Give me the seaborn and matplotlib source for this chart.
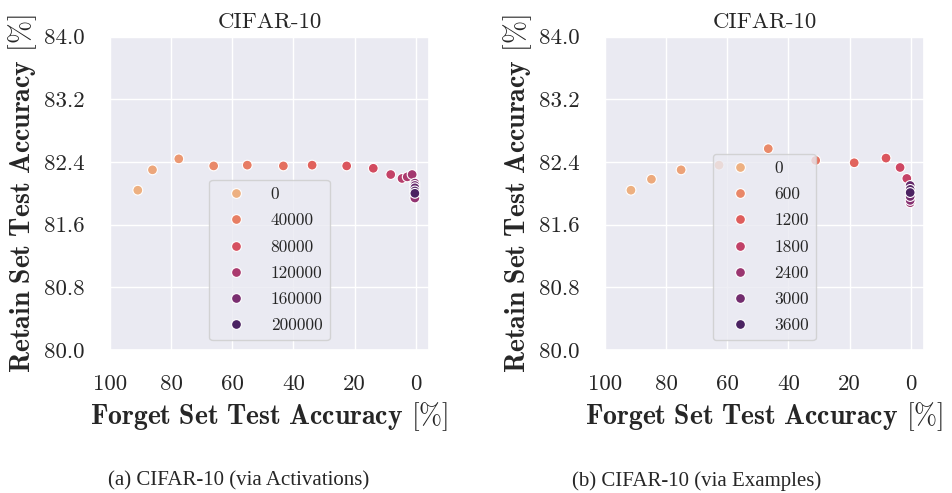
import matplotlib
matplotlib.use("Agg")
import matplotlib.pyplot as plt
import pandas as pd
import seaborn as sns

# (a) unlearning via activations
act_forget = [90.9, 86.1, 77.5, 66.1, 55.1, 43.3, 33.9, 22.6, 13.9, 8.2, 4.5, 2.8,
              1.2, 0.3, 0.3, 0.3, 0.3, 0.3, 0.3]
act_retain = [82.04, 82.30, 82.44, 82.35, 82.36, 82.35, 82.36, 82.35, 82.32, 82.24,
              82.19, 82.21, 82.24, 81.94, 82.13, 82.10, 82.07, 82.03, 82.00]
act_steps = [0, 8000, 20000, 32000, 42000, 52000, 62000, 72000, 84000, 98000,
             110000, 118000, 126000, 140000, 150000, 165000, 180000, 190000, 200000]

# (b) unlearning via examples
ex_forget = [91.5, 84.8, 75.1, 62.7, 46.6, 31.1, 18.5, 8.1, 3.5, 1.3,
             0.2, 0.2, 0.2, 0.2, 0.2, 0.2]
ex_retain = [82.04, 82.18, 82.30, 82.36, 82.57, 82.42, 82.39, 82.45, 82.33, 82.19,
             81.88, 81.91, 81.96, 82.10, 82.05, 82.01]
ex_count = [0, 100, 200, 300, 550, 900, 1100, 1300, 1600, 1750,
            2400, 2700, 3000, 3200, 3400, 3600]

sns.set_theme(style="darkgrid")
plt.rcParams["font.family"] = ["cmr10", "DejaVu Serif"]
plt.rcParams["mathtext.fontset"] = "cm"
plt.rcParams["axes.unicode_minus"] = False

fig = plt.figure(figsize=(9.53, 4.93), dpi=100)
ax1 = fig.add_axes([0.1154, 0.2901, 0.3347, 0.6355])
ax2 = fig.add_axes([0.6348, 0.2901, 0.3347, 0.6355])

df_a = pd.DataFrame({"forget": act_forget, "retain": act_retain, "hue": act_steps})
df_b = pd.DataFrame({"forget": ex_forget, "retain": ex_retain, "hue": ex_count})

for ax, df in [(ax1, df_a), (ax2, df_b)]:
    sns.scatterplot(data=df, x="forget", y="retain", hue="hue", palette="flare",
                    s=50, edgecolor="white", linewidth=0.8, ax=ax)
    ax.set_xlim(100, -4.3)
    ax.set_ylim(80.0, 84.0)
    ax.set_yticks([80.0, 80.8, 81.6, 82.4, 83.2, 84.0])
    ax.set_yticklabels(["80.0", "80.8", "81.6", "82.4", "83.2", "84.0"])
    ax.set_xticks([100, 80, 60, 40, 20, 0])
    ax.tick_params(labelsize=16.5, pad=12)
    ax.set_title("CIFAR-10", fontsize=16.5, pad=6)
    ax.set_xlabel(r"$\mathbf{Forget\ Set\ Test\ Accuracy}$ [%]", fontsize=20, labelpad=4)
    ax.set_ylabel(r"$\mathbf{Retain\ Set\ Test\ Accuracy}$ [%]", fontsize=20, labelpad=4)
    sns.move_legend(ax, "lower center", title=None, fontsize=12.5, frameon=True,
                    handlelength=2.26, handletextpad=0.87, labelspacing=0.63,
                    borderaxespad=0.55)

fig.text(108 / 953, 1 - 481 / 493, "(a) CIFAR-10 (via Activations)",
         family="Liberation Serif", fontsize=15, va="center", ha="left")
fig.text(572 / 953, 1 - 481 / 493, "(b) CIFAR-10 (via Examples)",
         family="Liberation Serif", fontsize=15, va="center", ha="left")

fig.savefig("out.png", dpi=100)
